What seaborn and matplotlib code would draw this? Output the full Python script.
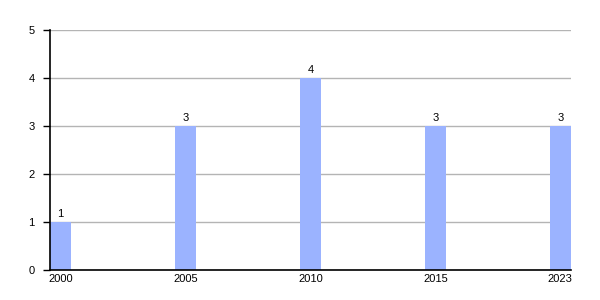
import matplotlib
matplotlib.use("Agg")
import matplotlib.pyplot as plt
import seaborn as sns
import pandas as pd

years = ["2000", "2005", "2010", "2015", "2023"]
values = [1, 3, 4, 3, 3]

sns.set_theme(style="white")
plt.rcParams['font.family'] = ['Liberation Sans', 'DejaVu Sans']

df = pd.DataFrame({"year": years, "value": values})

fig = plt.figure(figsize=(6, 3), dpi=100)
ax = fig.add_axes([50/600, 30/300, 521/600, 240/300])
sns.barplot(data=df, x="year", y="value", color="#9bb3ff", saturation=1,
            width=0.165, linewidth=0, ax=ax, zorder=3)
ax.set_xlim(-0.0857, 4.0857)
ax.set_ylim(0, 5)
ax.set_yticks([0, 1, 2, 3, 4, 5])
ax.grid(axis="y", color="#b4b4b4", linewidth=1, zorder=0)
ax.set_axisbelow(True)
for s in ["top", "right"]:
    ax.spines[s].set_visible(False)
for s in ["left", "bottom"]:
    ax.spines[s].set_color("black")
    ax.spines[s].set_linewidth(1.2)
    ax.spines[s].set_zorder(4)
ax.tick_params(axis="y", length=5, width=1, color="black", labelsize=8, pad=6, left=True,
               labelcolor="black")
ax.tick_params(axis="x", length=0, labelsize=8, pad=3, labelcolor="black")
ax.set_xlabel("")
ax.set_ylabel("")
for c in ax.containers:
    ax.bar_label(c, labels=[str(v) for v in values], fontsize=8, padding=2, color="black")
fig.savefig("out.png", dpi=100)
